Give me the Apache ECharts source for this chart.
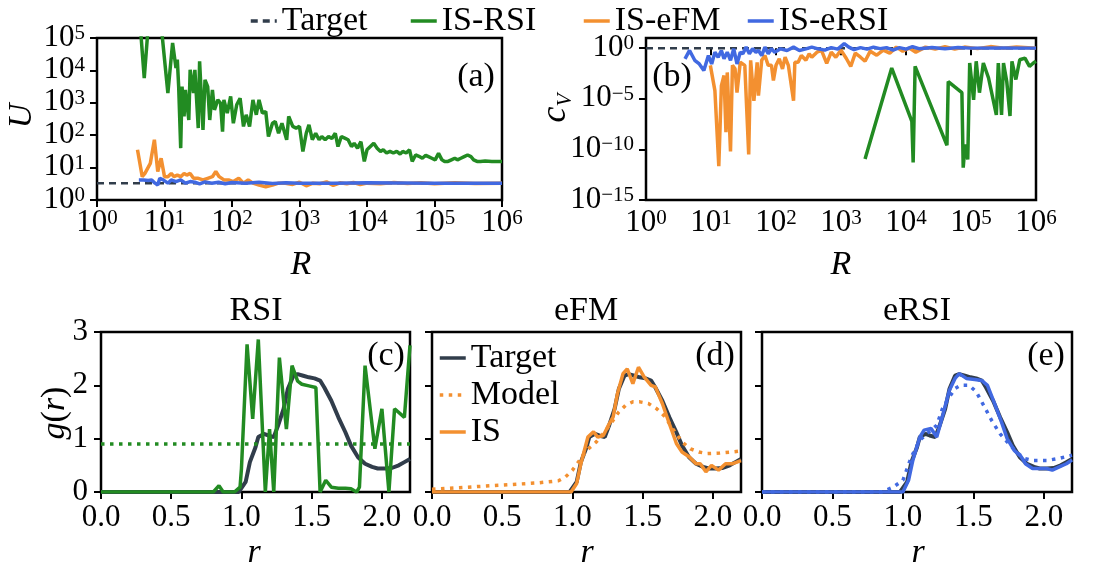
<!DOCTYPE html>
<html>
<head>
<meta charset="utf-8">
<title>IS comparison</title>
<script src="https://cdn.jsdelivr.net/npm/echarts@6/dist/echarts.min.js"></script>
<style>
html, body { margin: 0; padding: 0; background: #fff; }
#main { width: 1102px; height: 577px; }
</style>
</head>
<body>
<div id="main"></div>
<script>
// panels (a),(b): pairs [log10 R, log10 value]
var uRSI = [[0.64,5.4],[0.70,3.76],[0.76,5.4],[0.95,5.4],[1.05,3.3],[1.12,4.85],[1.17,4.07],[1.19,4.33],[1.21,3.5],[1.24,1.6],[1.26,3.5],[1.29,2.58],[1.31,3.4],[1.36,2.47],[1.38,4.02],[1.43,3.3],[1.45,4.02],[1.50,2.22],[1.52,4.28],[1.57,2.16],[1.60,3.71],[1.64,3.5],[1.67,2.47],[1.71,3.4],[1.74,2.78],[1.79,3.09],[1.83,2.99],[1.86,2.11],[1.88,3.09],[1.93,2.68],[1.98,3.2],[2.02,2.37],[2.07,2.94],[2.12,3.14],[2.17,2.27],[2.21,2.63],[2.26,2.27],[2.31,3.09],[2.36,2.63],[2.40,3.09],[2.45,2.68],[2.50,2.73],[2.54,1.96],[2.60,2.37],[2.64,2.42],[2.69,2.06],[2.74,2.37],[2.81,1.86],[2.84,2.58],[2.90,2.27],[2.95,2.22],[3.0,2.27],[3.05,1.5],[3.10,2.06],[3.14,2.32],[3.19,1.86],[3.24,2.06],[3.29,1.86],[3.33,1.96],[3.38,1.86],[3.43,1.96],[3.48,1.9],[3.53,2.06],[3.57,1.65],[3.62,1.96],[3.67,1.91],[3.72,1.86],[3.77,1.65],[3.81,1.75],[3.86,1.6],[3.91,1.8],[3.96,1.19],[4.0,1.55],[4.05,1.65],[4.10,1.75],[4.15,1.6],[4.20,1.5],[4.24,1.55],[4.29,1.45],[4.34,1.5],[4.39,1.45],[4.44,1.5],[4.49,1.42],[4.53,1.5],[4.58,1.45],[4.63,1.55],[4.67,1.19],[4.72,1.39],[4.77,1.35],[4.82,1.29],[4.87,1.38],[4.91,1.34],[4.96,1.29],[5.01,1.24],[5.06,1.44],[5.11,1.24],[5.15,1.19],[5.20,1.19],[5.25,1.24],[5.30,1.29],[5.34,1.24],[5.39,1.29],[5.44,1.34],[5.49,1.39],[5.54,1.34],[5.58,1.24],[5.63,1.19],[5.68,1.19],[5.75,1.2],[5.85,1.19],[6.0,1.19]];
var uEFM = [[0.6,1.55],[0.67,0.72],[0.71,0.82],[0.79,1.13],[0.85,1.86],[0.9,0.88],[0.95,1.29],[1.0,0.72],[1.05,0.72],[1.1,0.82],[1.14,0.72],[1.19,0.77],[1.24,0.72],[1.29,0.82],[1.33,0.77],[1.38,0.82],[1.43,0.67],[1.5,0.67],[1.57,0.62],[1.64,0.67],[1.71,0.72],[1.76,0.88],[1.81,0.72],[1.88,0.62],[1.95,0.62],[2.02,0.57],[2.1,0.67],[2.17,0.52],[2.24,0.62],[2.31,0.52],[2.4,0.46],[2.5,0.41],[2.6,0.46],[2.69,0.52],[2.79,0.52],[2.9,0.48],[3.0,0.55],[3.1,0.44],[3.2,0.52],[3.3,0.5],[3.4,0.56],[3.5,0.45],[3.6,0.53],[3.7,0.5],[3.8,0.54],[3.9,0.48],[4.0,0.52],[4.2,0.5],[4.4,0.54],[4.6,0.51],[4.8,0.53],[5.0,0.5],[5.3,0.53],[5.6,0.51],[6.0,0.52]];
var uERSI = [[0.62,0.62],[0.69,0.62],[0.76,0.6],[0.81,0.62],[0.86,0.52],[0.9,0.46],[0.93,0.67],[0.98,0.62],[1.05,0.52],[1.1,0.62],[1.17,0.57],[1.24,0.62],[1.31,0.52],[1.38,0.57],[1.45,0.55],[1.52,0.5],[1.6,0.56],[1.7,0.52],[1.8,0.55],[1.9,0.5],[2.0,0.54],[2.2,0.52],[2.4,0.55],[2.6,0.51],[2.8,0.53],[3.0,0.52],[3.5,0.52],[4.0,0.53],[5.0,0.52],[6.0,0.52]];
var uTarget = [[0,0.52],[6,0.52]];

var cvRSI = [[3.37,-10.96],[3.78,-1.97],[4.09,-7.24],[4.11,-11.3],[4.14,-1.8],[4.63,-9.6],[4.65,-3.3],[4.86,-4.4],[4.88,-11.8],[4.91,-9.5],[4.95,-11.0],[4.98,-1.47],[5.04,-5.1],[5.08,-1.3],[5.13,-4.4],[5.19,-1.47],[5.27,-2.95],[5.39,-6.6],[5.42,-1.47],[5.47,-6.6],[5.5,-1.47],[5.55,-3.3],[5.6,-6.7],[5.63,-1.3],[5.69,-3.1],[5.75,-1.15],[5.83,-0.98],[5.9,-1.8],[5.96,-1.47],[6.0,-1.3]];
var cvEFM = [[0.99,-1.7],[1.06,-4.2],[1.12,-11.65],[1.16,-3.7],[1.2,-2.7],[1.23,-8.3],[1.25,-2.4],[1.3,-10.2],[1.33,-1.7],[1.37,-2.05],[1.4,-4.4],[1.45,-1.4],[1.52,-1.7],[1.58,-10.5],[1.61,-1.2],[1.66,-5.2],[1.71,-1.4],[1.73,-4.7],[1.78,-1.2],[1.83,-0.73],[1.88,-1.7],[1.93,-1.7],[1.96,-3.2],[2.0,-1.7],[2.05,-1.06],[2.1,-2.05],[2.14,-0.9],[2.19,-1.7],[2.27,-5.2],[2.29,-1.4],[2.34,-1.4],[2.39,-0.73],[2.46,-1.2],[2.51,-0.56],[2.55,-0.9],[2.63,-0.4],[2.7,-0.23],[2.78,-1.5],[2.85,-0.4],[2.92,-0.9],[3.0,-0.2],[3.08,-1.0],[3.15,-1.8],[3.22,-0.5],[3.3,-0.9],[3.37,-1.3],[3.45,-0.3],[3.55,-0.7],[3.65,-0.2],[3.75,-0.5],[3.85,0.1],[3.95,-0.3],[4.05,0.0],[4.15,-0.4],[4.3,0.1],[4.45,-0.1],[4.6,0.15],[4.75,-0.1],[4.9,0.1],[5.1,-0.05],[5.3,0.15],[5.5,0.0],[5.7,0.1],[6.0,0.0]];
var cvERSI = [[0.60,-1.06],[0.67,-0.23],[0.75,-1.2],[0.82,-1.56],[0.89,-2.2],[0.96,-0.73],[1.01,-1.56],[1.06,-0.4],[1.11,-0.9],[1.16,-0.23],[1.2,-1.06],[1.25,-0.4],[1.3,-1.2],[1.35,-0.07],[1.4,-1.56],[1.45,-0.4],[1.49,-0.56],[1.54,0.1],[1.59,-0.56],[1.64,-0.07],[1.69,-0.4],[1.73,-0.23],[1.78,-0.73],[1.83,0.1],[1.88,-0.56],[1.93,-0.07],[1.98,-0.4],[2.07,-0.07],[2.17,-0.23],[2.27,0.1],[2.36,-0.23],[2.46,-0.07],[2.55,0.1],[2.65,-0.07],[2.75,-0.2],[2.85,0.05],[2.95,-0.1],[3.05,0.45],[3.12,0.1],[3.2,-0.15],[3.3,0.05],[3.4,-0.1],[3.5,0.1],[3.6,-0.05],[3.7,0.05],[3.8,-0.2],[3.9,0.05],[4.0,-0.1],[4.1,0.15],[4.2,-0.05],[4.4,0.05],[4.6,-0.05],[4.8,0.05],[5.0,0.0],[5.5,0.02],[6.0,0.0]];
var cvTarget = [[0,0],[6,0]];

// panels (c),(d),(e): pairs [r, g(r)]
var gTarget = [[0,0],[0.98,0],[1.03,0.19],[1.06,0.56],[1.1,0.84],[1.12,1.03],[1.16,1.09],[1.19,1.06],[1.23,1.03],[1.26,1.24],[1.3,1.56],[1.33,1.93],[1.37,2.18],[1.4,2.21],[1.44,2.18],[1.48,2.15],[1.52,2.13],[1.56,2.09],[1.59,1.96],[1.64,1.71],[1.69,1.4],[1.74,1.12],[1.78,0.87],[1.83,0.65],[1.88,0.53],[1.93,0.47],[1.97,0.44],[2.02,0.44],[2.07,0.45],[2.12,0.5],[2.16,0.56],[2.2,0.62]];
var gRSI = [[0,0],[0.8,0],[0.84,0.12],[0.87,0],[0.95,0],[0.99,0.09],[1.0,0.44],[1.04,2.77],[1.08,1.37],[1.12,2.86],[1.17,0],[1.2,1.18],[1.23,0],[1.27,2.52],[1.32,1.18],[1.36,2.37],[1.4,2.08],[1.43,2.02],[1.48,1.99],[1.53,1.96],[1.56,0],[1.6,0.22],[1.64,0.09],[1.69,0.07],[1.74,0.07],[1.78,0.06],[1.82,0],[1.84,0.09],[1.88,2.37],[1.95,0.81],[2.0,1.56],[2.05,0],[2.09,1.56],[2.16,1.4],[2.2,2.75]];
var mRSI = [[0,0.9],[2.2,0.9]];
var gEFM = [[0,0],[0.99,0],[1.03,0.16],[1.06,0.53],[1.11,1.03],[1.15,1.13],[1.18,1.03],[1.22,1.06],[1.25,1.22],[1.29,1.41],[1.32,1.84],[1.36,2.22],[1.39,2.31],[1.43,2.03],[1.47,2.34],[1.51,2.16],[1.56,2.0],[1.59,1.97],[1.64,1.66],[1.69,1.28],[1.74,0.91],[1.78,0.75],[1.83,0.66],[1.88,0.53],[1.91,0.53],[1.95,0.38],[1.99,0.5],[2.04,0.41],[2.09,0.53],[2.14,0.53],[2.2,0.59]];
var mEFM = [[0,0.05],[0.25,0.09],[0.5,0.13],[0.75,0.17],[0.9,0.21],[0.95,0.28],[1.0,0.41],[1.05,0.59],[1.1,0.78],[1.17,0.94],[1.23,1.13],[1.28,1.31],[1.33,1.5],[1.38,1.63],[1.43,1.69],[1.48,1.69],[1.54,1.66],[1.6,1.56],[1.66,1.41],[1.72,1.16],[1.78,0.94],[1.84,0.81],[1.9,0.75],[1.96,0.72],[2.05,0.73],[2.13,0.75],[2.2,0.77]];
var gERSI = [[0,0],[1.0,0],[1.04,0.22],[1.07,0.59],[1.12,1.03],[1.15,1.16],[1.2,1.19],[1.24,1.03],[1.28,1.41],[1.33,1.91],[1.37,2.13],[1.4,2.22],[1.45,2.13],[1.51,2.11],[1.56,2.09],[1.6,2.0],[1.65,1.66],[1.7,1.31],[1.74,1.0],[1.79,0.78],[1.84,0.66],[1.87,0.53],[1.92,0.44],[1.97,0.44],[2.02,0.44],[2.06,0.41],[2.11,0.47],[2.16,0.53],[2.2,0.6]];
var mERSI = [[0,0],[0.85,0],[0.93,0.09],[1.0,0.22],[1.06,0.66],[1.12,0.97],[1.17,1.09],[1.24,1.25],[1.28,1.56],[1.33,1.78],[1.37,1.94],[1.41,2.0],[1.47,2.0],[1.52,1.88],[1.58,1.59],[1.63,1.34],[1.69,1.09],[1.76,0.88],[1.82,0.72],[1.86,0.63],[1.92,0.59],[2.02,0.59],[2.11,0.63],[2.2,0.69]];

var rTicks = [0, 0.5, 1, 1.5, 2];

var FONT = '"Liberation Serif", "DejaVu Serif", serif';
var GREEN = '#228b22', ORANGE = '#f39030', BLUE = '#4169e1', DARK = '#313d4b';

var chart = echarts.init(document.getElementById('main'));

function pow10(v) {
  var e = Math.round(v);
  var s = e < 0 ? '\u2212' + (-e) : '' + e;
  return '{b|10}{s|' + s + '}';
}
var powRich = {
  b: { fontFamily: FONT, fontSize: 31, lineHeight: 30, verticalAlign: 'bottom', color: '#000' },
  s: { fontFamily: FONT, fontSize: 21, lineHeight: 16, verticalAlign: 'top', color: '#000' }
};
var tick = { show: true, inside: false, length: 7, lineStyle: { color: '#000', width: 2 } };

function logAxis(grid, min, max, interval, vals, isY) {
  return {
    gridIndex: grid, type: 'value', min: min, max: max, interval: interval,
    axisLine: { show: false }, splitLine: { show: false },
    axisTick: Object.assign({ customValues: vals }, tick),
    axisLabel: { customValues: vals, formatter: pow10, rich: powRich, margin: isY ? 12 : 8 }
  };
}
function rAxis(grid) {
  return {
    gridIndex: grid, type: 'value', min: 0, max: 2.2, interval: 0.5,
    axisLine: { show: false }, splitLine: { show: false },
    axisTick: Object.assign({ customValues: rTicks }, tick),
    axisLabel: { customValues: rTicks, formatter: function (v) { return v.toFixed(1); },
      fontFamily: FONT, fontSize: 31, color: '#000', margin: 10 }
  };
}
function gAxis(grid, showLabels) {
  return {
    gridIndex: grid, type: 'value', min: 0, max: 3, interval: 1,
    axisLine: { show: false }, splitLine: { show: false },
    axisTick: tick,
    axisLabel: { show: showLabels, fontFamily: FONT, fontSize: 31, color: '#000', margin: 13 }
  };
}
function line(name, data, idx, color, width, type, z) {
  return {
    name: name, type: 'line', xAxisIndex: idx, yAxisIndex: idx, data: data,
    symbol: 'none', z: z, animation: false,
    lineStyle: { color: color, width: width, type: type || 'solid' },
    itemStyle: { color: color }
  };
}
var frame = { show: true, borderColor: '#000', borderWidth: 2.5, backgroundColor: 'transparent' };
var DOT = [3.5, 5.5], DASH = [7, 5];

var legText = { fontFamily: FONT, fontSize: 34, color: '#000' };
var noMark = { color: 'rgba(0,0,0,0)', borderWidth: 0, opacity: 0 };
function topLegend(name, left) {
  return { data: [name], left: left, top: -1, itemWidth: 26, itemHeight: 14, itemGap: 10,
    lineStyle: { width: 3.5 }, itemStyle: noMark, textStyle: legText, selectedMode: false };
}
var dNames = { 'Target-d': 'Target', 'Model-d': 'Model', 'IS-eFM': 'IS' };

var italic = { fontFamily: FONT, fontSize: 34, fontStyle: 'italic', color: '#000' };
var upright = { fontFamily: FONT, fontSize: 34, color: '#000' };
function label(text, x, y, rot, rich) {
  return { type: 'text', x: x, y: y, rotation: rot || 0, z: 50,
    style: { text: text, align: 'center', verticalAlign: 'middle', rich: rich,
      font: '34px ' + FONT, fill: '#000' } };
}

chart.setOption({
  animation: false,
  grid: [
    Object.assign({ left: 97, top: 38, width: 405, height: 162 }, frame),
    Object.assign({ left: 646, top: 38, width: 390, height: 162 }, frame),
    Object.assign({ left: 101, top: 332, width: 309, height: 160 }, frame),
    Object.assign({ left: 432, top: 332, width: 309, height: 160 }, frame),
    Object.assign({ left: 762, top: 332, width: 310, height: 160 }, frame)
  ],
  xAxis: [
    logAxis(0, 0, 6, 1, [0, 1, 2, 3, 4, 5, 6], false),
    logAxis(1, 0, 6, 1, [0, 1, 2, 3, 4, 5, 6], false),
    rAxis(2), rAxis(3), rAxis(4)
  ],
  yAxis: [
    logAxis(0, 0, 5, 1, [0, 1, 2, 3, 4, 5], true),
    logAxis(1, -15, 1, 5, [-15, -10, -5, 0], true),
    gAxis(2, true), gAxis(3, false), gAxis(4, false)
  ],
  legend: [
    topLegend('Target', 244),
    topLegend('IS-RSI', 404),
    topLegend('IS-eFM', 577),
    topLegend('IS-eRSI', 741),
    { data: ['Target-d', 'Model-d', 'IS-eFM'], orient: 'vertical', left: 433, top: 336,
      itemWidth: 26, itemHeight: 14, itemGap: 3, lineStyle: { width: 3.5 }, itemStyle: noMark,
      textStyle: legText, selectedMode: false,
      formatter: function (n) { return dNames[n]; } }
  ],
  series: [
    line('Target', uTarget, 0, DARK, 2.5, DASH, 1),
    line('IS-RSI', uRSI, 0, GREEN, 3.5, 'solid', 2),
    line('IS-eFM', uEFM, 0, ORANGE, 3.5, 'solid', 3),
    line('IS-eRSI', uERSI, 0, BLUE, 3.5, 'solid', 4),

    line('Target', cvTarget, 1, DARK, 2.5, DASH, 1),
    line('IS-RSI', cvRSI, 1, GREEN, 3.5, 'solid', 2),
    line('IS-eFM', cvEFM, 1, ORANGE, 3.5, 'solid', 3),
    line('IS-eRSI', cvERSI, 1, BLUE, 3.5, 'solid', 4),

    line('Target-c', gTarget, 2, DARK, 4, 'solid', 1),
    line('Model-c', mRSI, 2, GREEN, 3.5, DOT, 2),
    line('IS-RSI', gRSI, 2, GREEN, 3.5, 'solid', 3),

    line('Target-d', gTarget, 3, DARK, 4, 'solid', 1),
    line('Model-d', mEFM, 3, ORANGE, 3.5, DOT, 2),
    line('IS-eFM', gEFM, 3, ORANGE, 3.5, 'solid', 3),

    line('Target-e', gTarget, 4, DARK, 4, 'solid', 1),
    line('Model-e', mERSI, 4, BLUE, 3.5, DOT, 2),
    line('IS-eRSI', gERSI, 4, BLUE, 3.5, 'solid', 3)
  ],
  graphic: [
    label('{i|U}', 22, 116, Math.PI / 2, { i: italic }),
    label('{i|R}', 301, 265, 0, { i: italic }),
    label('{i|R}', 841, 265, 0, { i: italic }),
    label('{i|c}{v|V}', 556, 108, Math.PI / 2, {
      i: { fontFamily: FONT, fontSize: 36, fontStyle: 'italic', lineHeight: 40, color: '#000' },
      v: { fontFamily: FONT, fontSize: 21, fontStyle: 'italic', lineHeight: 18, verticalAlign: 'bottom', color: '#000' }
    }),
    label('{n|(a)}', 476, 77, 0, { n: upright }),
    label('{n|(b)}', 672, 77, 0, { n: upright }),
    label('{n|RSI}', 256, 311, 0, { n: upright }),
    label('{n|eFM}', 586, 311, 0, { n: upright }),
    label('{n|eRSI}', 917, 311, 0, { n: upright }),
    label('{n|(c)}', 386, 356, 0, { n: upright }),
    label('{n|(d)}', 715, 356, 0, { n: upright }),
    label('{n|(e)}', 1046, 356, 0, { n: upright }),
    label('{i|g}{n|(}{i|r}{n|)}', 55, 413, Math.PI / 2, { i: italic, n: upright }),
    label('{i|r}', 254, 553, 0, { i: italic }),
    label('{i|r}', 587, 553, 0, { i: italic }),
    label('{i|r}', 918, 553, 0, { i: italic })
  ]
});
</script>
</body>
</html>
